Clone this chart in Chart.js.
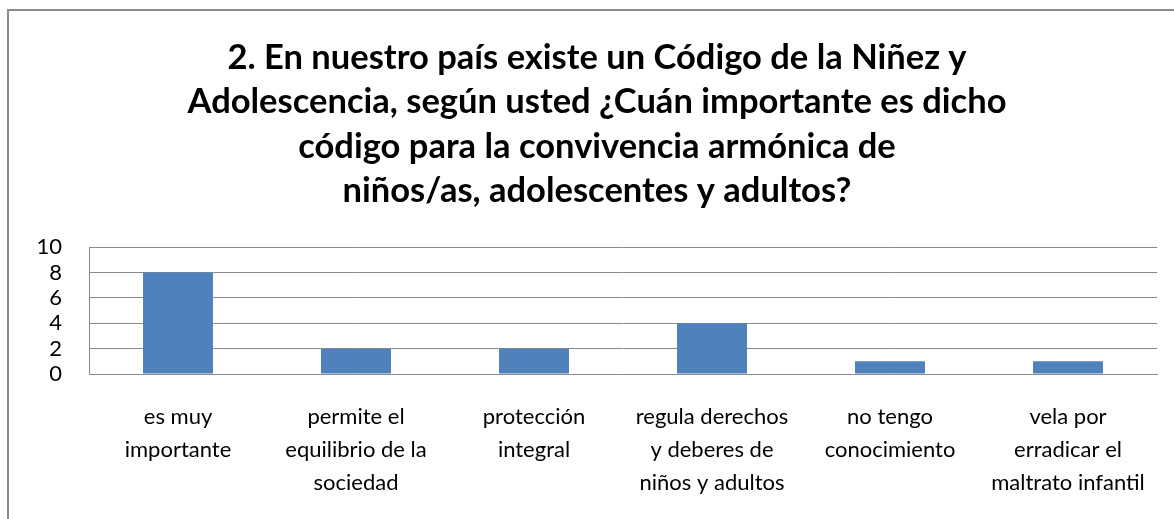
<!DOCTYPE html>
<html>
<head>
<meta charset="utf-8">
<script src="https://cdn.jsdelivr.net/npm/chart.js@4"></script>
<style>
  html, body { margin: 0; padding: 0; background: #fff; overflow: hidden; width: 1174px; height: 519px; }
  #frame { position: absolute; left: 7px; top: 9px; width: 1300px; height: 700px; border: 2px solid #8a8a8a; box-sizing: border-box; }
  #wrap { position: absolute; left: 9px; top: 11px; width: 1176px; height: 508px; }
</style>
</head>
<body>
<div id="frame"></div>
<div id="wrap"><canvas id="c" width="1176" height="508"></canvas></div>
<script>
const titleLines = [
  "2. En nuestro país existe un Código de la Niñez y",
  "Adolescencia, según usted ¿Cuán importante es dicho",
  "código para la convivencia armónica de",
  "niños/as, adolescentes y adultos?"
];
const categories = [
  ["es muy", "importante"],
  ["permite el", "equilibrio de la", "sociedad"],
  ["protección", "integral"],
  ["regula derechos", "y deberes de", "niños y adultos"],
  ["no tengo", "conocimiento"],
  ["vela por", "erradicar el", "maltrato infantil"]
];
const values = [8, 2, 2, 4, 1, 1];
const yTicks = [0, 2, 4, 6, 8, 10];

const FONT = "Lato, 'Open Sans', sans-serif";

new Chart(document.getElementById('c'), {
  type: 'bar',
  data: {
    labels: categories,
    datasets: [{
      data: values,
      backgroundColor: '#4F81BD',
      borderWidth: 0,
      barPercentage: 0.393,
      categoryPercentage: 1
    }]
  },
  options: {
    responsive: false,
    animation: false,
    layout: { padding: { left: 28, right: 28, top: 0, bottom: 0 } },
    plugins: {
      legend: { display: false },
      tooltip: { enabled: false },
      title: {
        display: true,
        text: titleLines,
        color: '#000',
        font: { family: FONT, size: 34.5, weight: 'bold', lineHeight: 1.28 },
        padding: { top: 25, bottom: 34.5 }
      }
    },
    scales: {
      x: {
        grid: { display: false, drawTicks: false },
        border: { display: true, color: '#8a8a8a', width: 1 },
        afterFit: (axis) => { axis.height = 145; },
        ticks: {
          color: '#000',
          font: { family: FONT, size: 22, lineHeight: 1.5 },
          padding: 26,
          maxRotation: 0,
          autoSkip: false
        }
      },
      y: {
        min: 0,
        max: 10,
        afterBuildTicks: (axis) => { axis.ticks = yTicks.map(v => ({ value: v })); },
        afterFit: (axis) => { axis.width = 52; },
        grid: { color: '#8a8a8a', lineWidth: 1, drawTicks: false },
        border: { display: true, color: '#8a8a8a', width: 1 },
        ticks: {
          color: '#000',
          font: { family: FONT, size: 22 },
          padding: 27,
          autoSkip: false
        }
      }
    }
  }
});
</script>
</body>
</html>
